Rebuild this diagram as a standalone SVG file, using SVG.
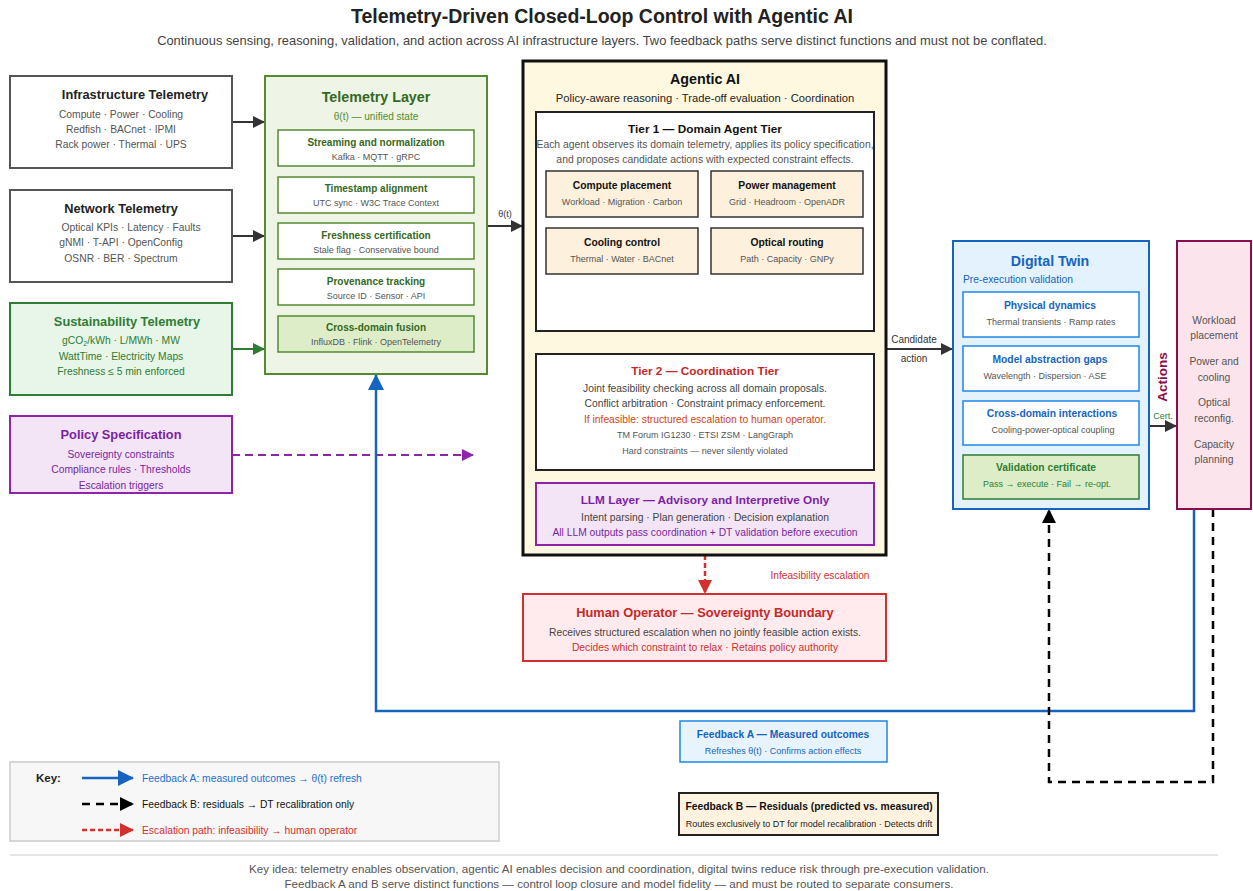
<svg xmlns="http://www.w3.org/2000/svg" width="1253" height="891" viewBox="0 0 1253 891">
<style>
text{font-family:"Liberation Sans",Arial,sans-serif;}
.c{text-anchor:middle;}
.e{text-anchor:end;}
.title{font-size:19.5px;font-weight:bold;fill:#222;}
.subtitle{font-size:12.9px;fill:#444;}
.h{font-size:12.8px;font-weight:bold;}
.s{font-size:10.3px;fill:#555;}
.sh{font-size:10px;font-weight:bold;fill:#33691e;}
.ss{font-size:9px;fill:#555;}
.gray{fill:#555;}
.green{fill:#2e7d32;}
.purple{fill:#7b1fa2;}
.blue{fill:#1565c0;}
.red{fill:#d32f2f;}
.box{stroke-width:2;}
.telsub{fill:#fff;stroke:#558b2f;stroke-width:1.5;}
.agent{fill:#fdf0dc;stroke:#333;stroke-width:1.5;}
.dtsub{fill:#fff;stroke:#1e88e5;stroke-width:1.5;}
.conn{fill:none;}
</style>
<defs>
<marker id="aDark" markerUnits="userSpaceOnUse" markerWidth="12" markerHeight="12" refX="11" refY="6" orient="auto"><path d="M0,0 L12,6 L0,12 z" fill="#333"/></marker>
<marker id="aGreen" markerUnits="userSpaceOnUse" markerWidth="12" markerHeight="12" refX="11" refY="6" orient="auto"><path d="M0,0 L12,6 L0,12 z" fill="#2e7d32"/></marker>
<marker id="aPurple" markerUnits="userSpaceOnUse" markerWidth="12" markerHeight="12" refX="11" refY="6" orient="auto"><path d="M0,0 L12,6 L0,12 z" fill="#8e24aa"/></marker>
<marker id="aBig" markerUnits="userSpaceOnUse" markerWidth="16" markerHeight="16" refX="15" refY="8" orient="auto"><path d="M0,0 L16,8 L0,16 z" fill="#000"/></marker>
<marker id="aBlue" markerUnits="userSpaceOnUse" markerWidth="16" markerHeight="16" refX="15" refY="8" orient="auto"><path d="M0,0 L16,8 L0,16 z" fill="#1565c0"/></marker>
<marker id="aBlack" markerUnits="userSpaceOnUse" markerWidth="14" markerHeight="14" refX="13" refY="7" orient="auto"><path d="M0,0 L14,7 L0,14 z" fill="#000"/></marker>
<marker id="aRed" markerUnits="userSpaceOnUse" markerWidth="14" markerHeight="14" refX="13" refY="7" orient="auto"><path d="M0,0 L14,7 L0,14 z" fill="#d32f2f"/></marker>
</defs>
<rect width="1253" height="891" fill="#fff"/>
<text class="title c" x="602" y="23">Telemetry-Driven Closed-Loop Control with Agentic AI</text>
<text class="subtitle c" x="602" y="45">Continuous sensing, reasoning, validation, and action across AI infrastructure layers. Two feedback paths serve distinct functions and must not be conflated.</text>

<g id="connectors">
<line class="conn" x1="232" y1="122" x2="264" y2="122" stroke="#333" stroke-width="2" marker-end="url(#aDark)"/>
<line class="conn" x1="232" y1="236" x2="264" y2="236" stroke="#333" stroke-width="2" marker-end="url(#aDark)"/>
<line class="conn" x1="232" y1="349" x2="264" y2="349" stroke="#2e7d32" stroke-width="2" marker-end="url(#aGreen)"/>
<line class="conn" x1="232" y1="455" x2="473" y2="455" stroke="#8e24aa" stroke-width="2" stroke-dasharray="8,5" marker-end="url(#aPurple)"/>
<line class="conn" x1="487" y1="226" x2="522" y2="226" stroke="#333" stroke-width="2" marker-end="url(#aDark)"/>
<text x="505" y="217" class="c" style="font-size:9px;fill:#333">θ(t)</text>
<line class="conn" x1="705" y1="331" x2="705" y2="355" stroke="#000" stroke-width="2" marker-end="url(#aBig)"/>
<text x="879" y="347" class="e" style="font-size:9px;fill:#222">Candidate proposals</text>
<line class="conn" x1="886" y1="349" x2="952" y2="349" stroke="#333" stroke-width="2" marker-end="url(#aDark)"/>
<text x="914" y="343" class="c" style="font-size:10px;fill:#333">Candidate</text>
<text x="914" y="362" class="c" style="font-size:10px;fill:#333">action</text>
<line class="conn" x1="1149" y1="426" x2="1176" y2="426" stroke="#333" stroke-width="2" marker-end="url(#aDark)"/>
<text x="1163" y="419" class="c" style="font-size:9px;fill:#2e7d32">Cert.</text>
<line class="conn" x1="705" y1="555" x2="705" y2="593" stroke="#d32f2f" stroke-width="2.5" stroke-dasharray="5,3" marker-end="url(#aRed)"/>
<text x="820" y="579" class="c" style="font-size:10.2px;fill:#d32f2f">Infeasibility escalation</text>
<polyline class="conn" points="1194,509 1194,711 376,711 376,375" stroke="#1565c0" stroke-width="2.5" marker-end="url(#aBlue)"/>
<polyline class="conn" points="1213,509 1213,782 1049,782 1049,510" stroke="#000" stroke-width="2.5" stroke-dasharray="8,6" marker-end="url(#aBlack)"/>
</g>

<g id="infra">
<rect class="box" x="10" y="76" width="222" height="92" fill="#fff" stroke="#555"/>
<text class="h c" x="135" y="99" fill="#222">Infrastructure Telemetry</text>
<text class="s c" x="121" y="118">Compute · Power · Cooling</text>
<text class="s c" x="121" y="133">Redfish · BACnet · IPMI</text>
<text class="s c" x="121" y="148">Rack power · Thermal · UPS</text>
</g>
<g id="network">
<rect class="box" x="10" y="190" width="222" height="92" fill="#fff" stroke="#555"/>
<text class="h c" x="121" y="213" fill="#222">Network Telemetry</text>
<text class="s c" x="131" y="231">Optical KPIs · Latency · Faults</text>
<text class="s c" x="121" y="246">gNMI · T-API · OpenConfig</text>
<text class="s c" x="121" y="262">OSNR · BER · Spectrum</text>
</g>
<g id="sustain">
<rect class="box" x="10" y="303" width="222" height="92" fill="#e8f5e9" stroke="#2e7d32"/>
<text class="h c" x="127" y="326" fill="#2e7d32">Sustainability Telemetry</text>
<text class="s c green" x="121" y="344">gCO<tspan font-size="7" dy="2">2</tspan><tspan dy="-2">/kWh · L/MWh · MW</tspan></text>
<text class="s c green" x="121" y="360">WattTime · Electricity Maps</text>
<text class="s c green" x="121" y="375">Freshness ≤ 5 min enforced</text>
</g>
<g id="policy">
<rect class="box" x="10" y="416" width="222" height="77" fill="#f3e5f5" stroke="#8e24aa"/>
<text class="h c" x="121" y="439" fill="#7b1fa2">Policy Specification</text>
<text class="s c purple" x="121" y="458">Sovereignty constraints</text>
<text class="s c purple" x="121" y="473">Compliance rules · Thresholds</text>
<text class="s c purple" x="121" y="489">Escalation triggers</text>
</g>

<g id="telemetry-layer">
<rect class="box" x="265" y="76" width="222" height="298" fill="#eef5e6" stroke="#558b2f" stroke-width="2.5"/>
<text class="c" x="376" y="102" style="font-size:14.3px;font-weight:bold;fill:#33691e">Telemetry Layer</text>
<text class="c" x="376" y="120" style="font-size:10px;fill:#558b2f">θ(t) — unified state</text>
<rect class="telsub" x="278" y="130" width="196" height="36"/>
<text class="sh c" x="376" y="146">Streaming and normalization</text>
<text class="c" x="376" y="160" style="font-size:9px;fill:#555">Kafka · MQTT · gRPC</text>
<rect class="telsub" x="278" y="177" width="196" height="36"/>
<text class="sh c" x="376" y="192">Timestamp alignment</text>
<text class="c" x="376" y="206" style="font-size:9px;fill:#555">UTC sync · W3C Trace Context</text>
<rect class="telsub" x="278" y="223" width="196" height="36"/>
<text class="sh c" x="376" y="239">Freshness certification</text>
<text class="c" x="376" y="253" style="font-size:9px;fill:#555">Stale flag · Conservative bound</text>
<rect class="telsub" x="278" y="269" width="196" height="36"/>
<text class="sh c" x="376" y="285">Provenance tracking</text>
<text class="c" x="376" y="299" style="font-size:9px;fill:#555">Source ID · Sensor · API</text>
<rect class="telsub" x="278" y="316" width="196" height="36" style="fill:#dcedc8"/>
<text class="sh c" x="376" y="331">Cross-domain fusion</text>
<text class="c" x="376" y="345" style="font-size:9px;fill:#555">InfluxDB · Flink · OpenTelemetry</text>
</g>

<g id="agentic-ai">
<rect x="523" y="61" width="363" height="494" fill="#fff8e1" stroke="#111" stroke-width="3"/>
<text class="c" x="705" y="84" style="font-size:14.3px;font-weight:bold;fill:#111">Agentic AI</text>
<text class="c" x="705" y="102" style="font-size:11.2px;fill:#222">Policy-aware reasoning · Trade-off evaluation · Coordination</text>
</g>
<g id="tier1">
<rect x="536" y="112" width="338" height="219" fill="#fff" stroke="#222" stroke-width="2"/>
<text class="c" x="705" y="133" style="font-size:11.8px;font-weight:bold;fill:#111">Tier 1 — Domain Agent Tier</text>
<text class="c" x="705" y="148" style="font-size:10.4px;fill:#555">Each agent observes its domain telemetry, applies its policy specification,</text>
<text class="c" x="705" y="163" style="font-size:10.4px;fill:#555">and proposes candidate actions with expected constraint effects.</text>
</g>
<g id="compute-placement">
<rect class="agent" x="546" y="171" width="152" height="46"/>
<text class="c" x="622" y="189" style="font-size:10.3px;font-weight:bold;fill:#111">Compute placement</text>
<text class="ss c" x="622" y="205">Workload · Migration · Carbon</text>
</g>
<g id="power-management">
<rect class="agent" x="711" y="171" width="152" height="46"/>
<text class="c" x="787" y="189" style="font-size:10.3px;font-weight:bold;fill:#111">Power management</text>
<text class="ss c" x="787" y="205">Grid · Headroom · OpenADR</text>
</g>
<g id="cooling-control">
<rect class="agent" x="546" y="228" width="152" height="46"/>
<text class="c" x="622" y="246" style="font-size:10.3px;font-weight:bold;fill:#111">Cooling control</text>
<text class="ss c" x="622" y="262">Thermal · Water · BACnet</text>
</g>
<g id="optical-routing">
<rect class="agent" x="711" y="228" width="152" height="46"/>
<text class="c" x="787" y="246" style="font-size:10.3px;font-weight:bold;fill:#111">Optical routing</text>
<text class="ss c" x="787" y="262">Path · Capacity · GNPy</text>
</g>
<g id="tier2">
<rect x="536" y="354" width="338" height="116" fill="#fff" stroke="#222" stroke-width="2"/>
<text class="c" x="705" y="375" style="font-size:11.8px;font-weight:bold;fill:#c62828">Tier 2 — Coordination Tier</text>
<text class="c" x="705" y="392" style="font-size:10.3px;fill:#444">Joint feasibility checking across all domain proposals.</text>
<text class="c" x="705" y="407" style="font-size:10.3px;fill:#444">Conflict arbitration · Constraint primacy enforcement.</text>
<text class="c" x="705" y="423" style="font-size:10.3px;fill:#d84315">If infeasible: structured escalation to human operator.</text>
<text class="c" x="705" y="438" style="font-size:9px;fill:#555">TM Forum IG1230 · ETSI ZSM · LangGraph</text>
<text class="c" x="705" y="454" style="font-size:9px;fill:#555">Hard constraints — never silently violated</text>
</g>
<g id="llm-layer">
<rect x="536" y="483" width="338" height="62" fill="#f3e5f5" stroke="#8e24aa" stroke-width="2"/>
<text class="c" x="705" y="504" style="font-size:11.8px;font-weight:bold;fill:#7b1fa2">LLM Layer — Advisory and Interpretive Only</text>
<text class="c" x="705" y="521" style="font-size:10.3px;fill:#444">Intent parsing · Plan generation · Decision explanation</text>
<text class="c" x="705" y="536" style="font-size:10.3px;fill:#7b1fa2">All LLM outputs pass coordination + DT validation before execution</text>
</g>
<g id="human-operator">
<rect x="523" y="594" width="363" height="67" fill="#ffebee" stroke="#d32f2f" stroke-width="2"/>
<text class="c" x="705" y="617" style="font-size:12.8px;font-weight:bold;fill:#c62828">Human Operator — Sovereignty Boundary</text>
<text class="c" x="705" y="636" style="font-size:10.3px;fill:#444">Receives structured escalation when no jointly feasible action exists.</text>
<text class="c" x="705" y="651" style="font-size:10.3px;fill:#d32f2f">Decides which constraint to relax · Retains policy authority</text>
</g>

<g id="digital-twin">
<rect x="953" y="241" width="196" height="268" fill="#e3f2fd" stroke="#1565c0" stroke-width="2"/>
<text class="c" x="1050" y="266" style="font-size:14.2px;font-weight:bold;fill:#1565c0">Digital Twin</text>
<text x="963" y="283" style="font-size:10.3px;fill:#1565c0">Pre-execution validation</text>
<rect class="dtsub" x="963" y="292" width="176" height="45"/>
<text class="c" x="1050" y="309" style="font-size:10.3px;font-weight:bold;fill:#1565c0">Physical dynamics</text>
<text class="ss c" x="1051" y="325">Thermal transients · Ramp rates</text>
<rect class="dtsub" x="963" y="346" width="176" height="45"/>
<text class="c" x="1050" y="363" style="font-size:10.3px;font-weight:bold;fill:#1565c0">Model abstraction gaps</text>
<text class="ss c" x="1045" y="379">Wavelength · Dispersion · ASE</text>
<rect class="dtsub" x="963" y="401" width="176" height="44"/>
<text class="c" x="1052" y="417" style="font-size:10.3px;font-weight:bold;fill:#1565c0">Cross-domain interactions</text>
<text class="ss c" x="1053" y="433">Cooling-power-optical coupling</text>
<rect x="963" y="455" width="176" height="44" fill="#dcedc8" stroke="#2e7d32" stroke-width="1.5"/>
<text class="c" x="1046" y="471" style="font-size:10.3px;font-weight:bold;fill:#2e7d32">Validation certificate</text>
<text class="ss c" x="1047" y="487" style="fill:#2e7d32">Pass → execute · Fail → re-opt.</text>
</g>

<g id="actions">
<rect x="1177" y="241" width="74" height="268" fill="#fce4ec" stroke="#880e4f" stroke-width="2"/>
<text class="c" transform="translate(1167,377) rotate(-90)" style="font-size:13.5px;font-weight:bold;fill:#880e4f">Actions</text>
<text class="s c" x="1214" y="324">Workload</text>
<text class="s c" x="1214" y="339">placement</text>
<text class="s c" x="1214" y="365">Power and</text>
<text class="s c" x="1214" y="381">cooling</text>
<text class="s c" x="1214" y="406">Optical</text>
<text class="s c" x="1214" y="422">reconfig.</text>
<text class="s c" x="1214" y="448">Capacity</text>
<text class="s c" x="1214" y="463">planning</text>
</g>

<g id="feedback-a">
<rect x="680" y="721" width="207" height="41" fill="#e8f4fd" stroke="#1e88e5" stroke-width="1.5"/>
<text class="c" x="783" y="738" style="font-size:10.3px;font-weight:bold;fill:#1565c0">Feedback A — Measured outcomes</text>
<text class="c" x="783" y="754" style="font-size:9px;fill:#1565c0">Refreshes θ(t) · Confirms action effects</text>
</g>
<g id="feedback-b">
<rect x="679" y="793" width="259" height="42" fill="#fff3e0" stroke="#222" stroke-width="2"/>
<text class="c" x="809" y="810" style="font-size:10.3px;font-weight:bold;fill:#111">Feedback B — Residuals (predicted vs. measured)</text>
<text class="c" x="809" y="827" style="font-size:9px;fill:#222">Routes exclusively to DT for model recalibration · Detects drift</text>
</g>

<g id="key">
<rect x="10" y="762" width="489" height="79" fill="#f7f7f7" stroke="#ccc" stroke-width="1.5"/>
<text x="36" y="782" style="font-size:11.5px;font-weight:bold;fill:#222">Key:</text>
<line x1="82" y1="778" x2="133" y2="778" stroke="#1565c0" stroke-width="2.5" marker-end="url(#aBlue)"/>
<text x="142" y="782" style="font-size:10.3px;fill:#1e6fd0">Feedback A: measured outcomes → θ(t) refresh</text>
<line x1="82" y1="804" x2="133" y2="804" stroke="#000" stroke-width="2.5" stroke-dasharray="8,6" marker-end="url(#aBlack)"/>
<text x="142" y="808" style="font-size:10.3px;fill:#111">Feedback B: residuals → DT recalibration only</text>
<line x1="82" y1="830" x2="133" y2="830" stroke="#d32f2f" stroke-width="2.5" stroke-dasharray="5,3" marker-end="url(#aRed)"/>
<text x="142" y="834" style="font-size:10.3px;fill:#d32f2f">Escalation path: infeasibility → human operator</text>
</g>

<line x1="10" y1="855" x2="1218" y2="855" stroke="#ccc" stroke-width="1"/>
<text class="c" x="619" y="873" style="font-size:11.6px;fill:#555">Key idea: telemetry enables observation, agentic AI enables decision and coordination, digital twins reduce risk through pre-execution validation.</text>
<text class="c" x="619" y="888" style="font-size:11.6px;fill:#555">Feedback A and B serve distinct functions — control loop closure and model fidelity — and must be routed to separate consumers.</text>
</svg>
